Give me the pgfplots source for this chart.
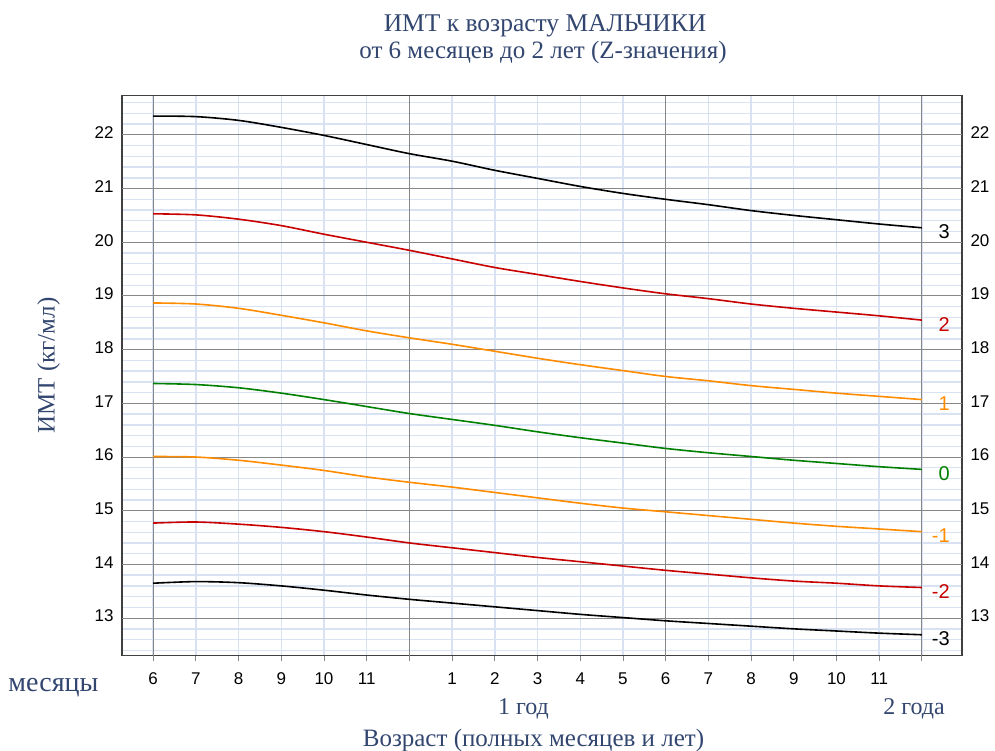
\documentclass[border=0pt]{standalone}
\usepackage{fontspec}
\setmainfont{Liberation Serif}
\newfontfamily\arial{Liberation Sans}
\usepackage{pgfplots}
\usepackage{pgfplotstable}
\pgfplotsset{compat=1.18}
\definecolor{tblue}{RGB}{50,70,112}
\definecolor{lblue}{RGB}{216,226,242}
\definecolor{ggrid}{RGB}{135,135,135}
\definecolor{zred}{RGB}{200,0,0}
\definecolor{zorange}{RGB}{255,140,0}
\definecolor{zgreen}{RGB}{0,128,0}

\pgfplotstableread{
m s3 s2 s1 s0 n1 n2 n3
6 22.35 20.53 18.87 17.37 16.01 14.77 13.65
7 22.34 20.51 18.85 17.35 16.00 14.79 13.68
8 22.27 20.43 18.77 17.29 15.94 14.75 13.66
9 22.14 20.31 18.64 17.19 15.85 14.69 13.60
10 21.99 20.15 18.50 17.07 15.75 14.61 13.52
11 21.82 20.00 18.35 16.94 15.63 14.51 13.43
12 21.65 19.85 18.22 16.81 15.53 14.40 13.35
13 21.51 19.69 18.10 16.70 15.44 14.31 13.28
14 21.34 19.53 17.97 16.59 15.34 14.22 13.21
15 21.19 19.40 17.84 16.47 15.24 14.13 13.14
16 21.04 19.27 17.72 16.36 15.14 14.05 13.07
17 20.91 19.15 17.61 16.26 15.05 13.97 13.01
18 20.80 19.04 17.50 16.16 14.98 13.89 12.95
19 20.70 18.95 17.42 16.08 14.91 13.82 12.90
20 20.59 18.85 17.33 16.01 14.84 13.75 12.85
21 20.50 18.77 17.26 15.94 14.77 13.69 12.80
22 20.42 18.70 17.19 15.88 14.71 13.65 12.76
23 20.34 18.63 17.13 15.82 14.66 13.60 12.72
24 20.27 18.55 17.07 15.77 14.61 13.57 12.69
}\tbl

\pgfplotsset{
  common/.style={
    at={(0,0)}, anchor=south west,
    scale only axis, width=840pt, height=560pt,
    xmin=5.27, xmax=24.94, ymin=12.3, ymax=22.73,
    ytick={13,14,...,22},
    /pgf/number format/assume math mode=true,
    ticklabel style={font=\arial\fontsize{17}{19}\selectfont, text=black},
    typeset ticklabels with strut,
    tick align=outside, major tick length=5pt,
    tick style={draw=ggrid, line width=0.8pt},
    ytick style={draw=none},
  }
}

\begin{document}
\begin{tikzpicture}
\useasboundingbox (-122pt,-95.3pt) rectangle (873pt,655.7pt);
\begin{axis}[common,
  tick pos=left,
  xtick={6,7,...,24},
  xticklabels={6,7,8,9,10,11,{},1,2,3,4,5,6,7,8,9,10,11,{}},
  minor ytick={12.4,12.6,12.8,13.2,13.4,13.6,13.8,14.2,14.4,14.6,14.8,15.2,15.4,15.6,15.8,16.2,16.4,16.6,16.8,17.2,17.4,17.6,17.8,18.2,18.4,18.6,18.8,19.2,19.4,19.6,19.8,20.2,20.4,20.6,20.8,21.2,21.4,21.6,21.8,22.2,22.4,22.6},
  minor tick length=0pt,
  xmajorgrids, yminorgrids,
  major grid style={draw=lblue, line width=1.4pt},
  minor grid style={draw=lblue, line width=1.4pt},
  extra x ticks={6,12,18,24}, extra x tick labels={},
  extra y ticks={13,14,...,22}, extra y tick labels={},
  extra tick style={grid=major, major grid style={draw=ggrid, line width=1pt}},
  axis line style={draw=black!75, line width=1.6pt},
  xticklabel style={yshift=-7pt},
]
\addplot[black, line width=1.6pt, smooth] table[x=m,y=s3]{\tbl};
\addplot[zred, line width=1.6pt, smooth] table[x=m,y=s2]{\tbl};
\addplot[zorange, line width=1.6pt, smooth] table[x=m,y=s1]{\tbl};
\addplot[zgreen, line width=1.6pt, smooth] table[x=m,y=s0]{\tbl};
\addplot[zorange, line width=1.6pt, smooth] table[x=m,y=n1]{\tbl};
\addplot[zred, line width=1.6pt, smooth] table[x=m,y=n2]{\tbl};
\addplot[black, line width=1.6pt, smooth] table[x=m,y=n3]{\tbl};
\begin{scope}[every node/.style={anchor=east, inner sep=0pt, font=\arial\fontsize{20}{22}\selectfont, xshift=28pt, yshift=-4pt}]
\node[text=black] at (axis cs:24,20.27) {3};
\node[text=zred] at (axis cs:24,18.55) {2};
\node[text=zorange] at (axis cs:24,17.07) {1};
\node[text=zgreen] at (axis cs:24,15.77) {0};
\node[text=zorange] at (axis cs:24,14.61) {-1};
\node[text=zred] at (axis cs:24,13.57) {-2};
\node[text=black] at (axis cs:24,12.69) {-3};
\end{scope}
\end{axis}
\begin{axis}[common,
  xtick=\empty,
  ytick pos=right, yticklabel pos=right,
  axis line style={draw=none},
]
\end{axis}
\node[anchor=base, text=tblue, font=\fontsize{25.5}{30}\selectfont] at (423pt,624pt) {ИМТ к возрасту МАЛЬЧИКИ};
\node[anchor=base, text=tblue, font=\fontsize{25}{30}\selectfont] at (421pt,597pt) {от 6 месяцев до 2 лет (Z-значения)};
\node[rotate=90, text=tblue, font=\fontsize{25}{30}\selectfont] at (-73.5pt,290pt) {ИМТ (кг/мл)};
\node[anchor=base west, inner sep=0pt, text=tblue, font=\fontsize{28}{30}\selectfont] at (-113.7pt,-36pt) {месяцы};
\node[anchor=base, text=tblue, font=\fontsize{24}{28}\selectfont] at (401.5pt,-59.3pt) {1 год};
\node[anchor=base, text=tblue, font=\fontsize{24}{28}\selectfont] at (792pt,-59.3pt) {2 года};
\node[anchor=base, text=tblue, font=\fontsize{25}{28}\selectfont] at (411.5pt,-91pt) {Возраст (полных месяцев и лет)};
\end{tikzpicture}
\end{document}
